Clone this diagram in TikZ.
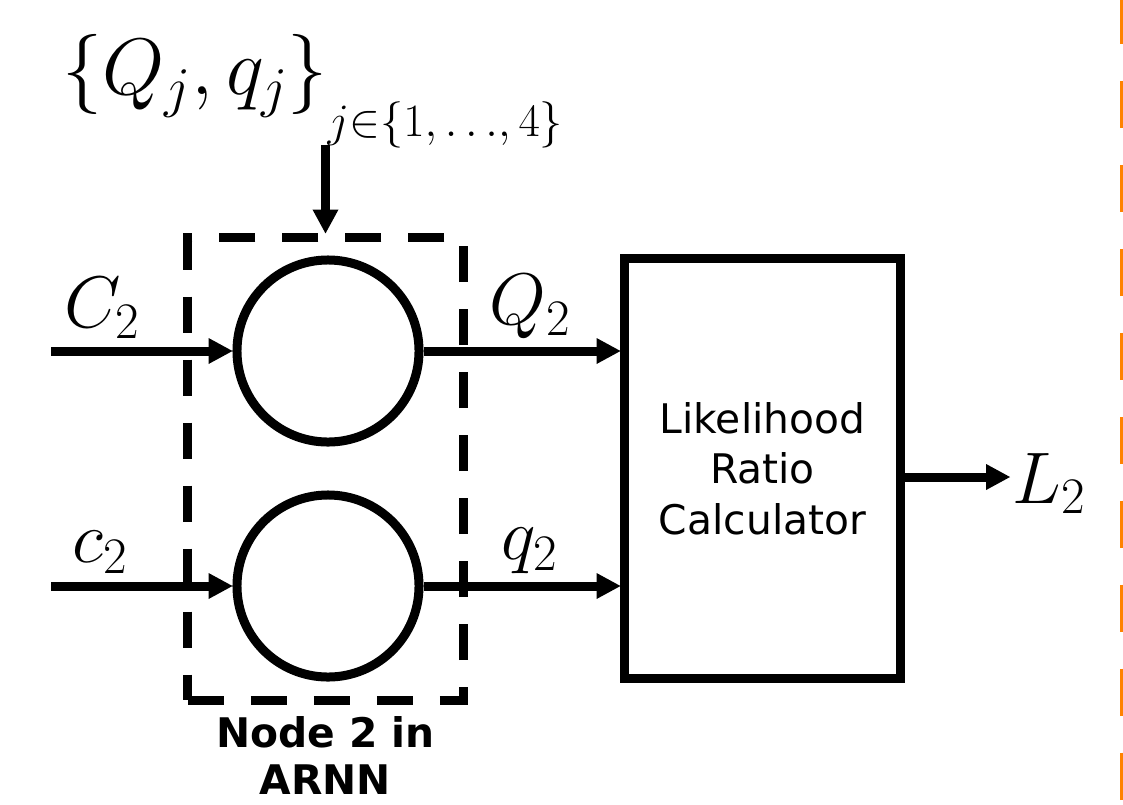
\RequirePackage{fix-cm}
\documentclass[tikz,border=0pt]{standalone}
\usepackage{fontspec}
\setsansfont{DejaVu Sans}
\definecolor{SplitOrange}{HTML}{FF8200}
\usetikzlibrary{arrows.meta, positioning}

\begin{document}
\begin{tikzpicture}[x=0.025cm, y=-0.025cm,
    >={Triangle[length=17pt, width=18.5pt, line width=0pt]},
    flow/.style={->, line width=6.4pt},
    unit/.style={draw, circle, line width=6.4pt, minimum size=4.55cm, inner sep=0pt},
    arnn/.style={draw, line width=6.4pt, dash pattern=on 25.6pt off 19.2pt,
                 minimum width=6.875cm, minimum height=11.55cm},
    calcbox/.style={draw, line width=6.4pt,
                    minimum width=6.875cm, minimum height=10.475cm,
                    font=\sffamily\fontsize{29}{36}\selectfont, align=center},
    lbl/.style={font=\fontsize{52}{60}\selectfont, inner sep=0pt}]
  \useasboundingbox (0,0) rectangle (1123,804);

  % Node 2 of the ARNN and its two units
  \node[arnn] (arnn) at (325.5,469) {};
  \node[unit] (uQ) at (328,351) {};
  \node[unit] (uq) at (328,586) {};
  \node[below=0.3cm of arnn, inner sep=0pt, align=center,
        font=\sffamily\bfseries\fontsize{29}{33}\selectfont] (cap) {Node 2 in\\ARNN};

  % Likelihood ratio calculator
  \node[calcbox] (lrc) at (762.5,468.5) {Likelihood\\Ratio\\Calculator};

  % Inputs
  \coordinate (inC) at (51,351);
  \coordinate (inc) at (51,586);
  \draw[flow] (inC) -- node[lbl, above=0.2cm, pos=0.28] {$C_2$} (uQ.west);
  \draw[flow] (inc) -- node[lbl, above=0.2cm, pos=0.27] {$c_2$} (uq.west);

  % Outputs
  \draw[flow] (uQ.east) -- node[lbl, above=0.2cm, pos=0.54] {$Q_2$} (uQ.east -| lrc.west);
  \draw[flow] (uq.east) -- node[lbl, above=0.2cm, pos=0.54] {$q_2$} (uq.east -| lrc.west);

  % Likelihood ratio out
  \coordinate (Lin) at (1010,477);
  \node[lbl, anchor=base west] (L) at (1012,503) {$L_2$};
  \draw[flow] (lrc.east |- Lin) -- (Lin);

  % Statistics of the neighbours
  \node[font=\fontsize{57}{62}\selectfont, inner sep=0pt, anchor=base west] (stats) at (62,94)
    {$\bigl\{Q_j, q_j\bigr\}_{\raisebox{-14pt}{\fontsize{33}{35}\selectfont$j{\in}\{1,{\ldots},4\}$}}$};
  \coordinate (statsfoot) at (325.5,145);
  \draw[flow] (statsfoot) -- (arnn.north);

  % Separator
  \coordinate (sepTop) at (1121.5,-3);
  \coordinate (sepBot) at (1121.5,804);
  \draw[SplitOrange, line width=2.2pt, dash pattern=on 33.4pt off 26.3pt] (sepTop) -- (sepBot);
\end{tikzpicture}
\end{document}
